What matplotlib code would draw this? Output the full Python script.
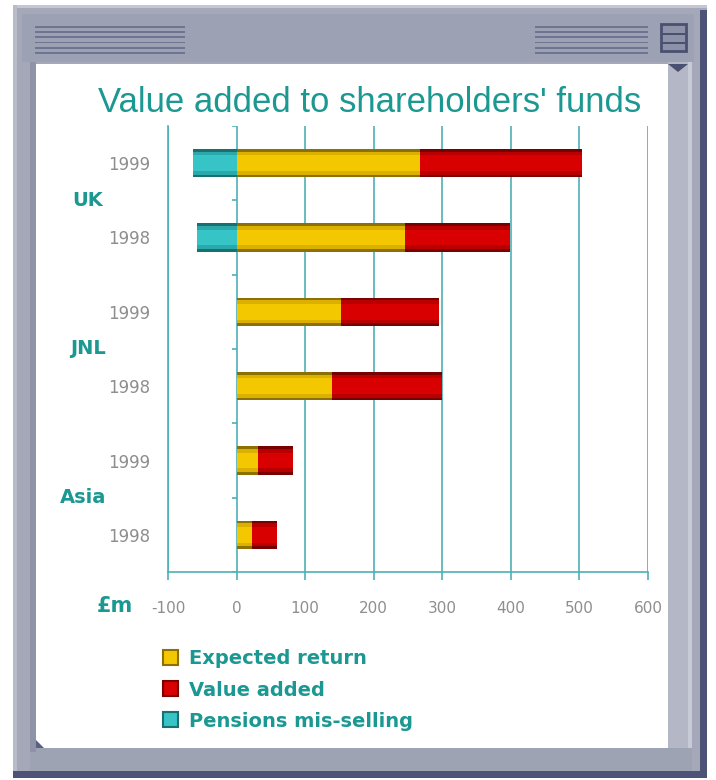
import matplotlib
matplotlib.use("Agg")
import matplotlib.pyplot as plt
from matplotlib.patches import Rectangle, Polygon, Patch
import numpy as np

# ---- data ----
groups = ["UK", "JNL", "Asia"]
years = ["1999", "1998"]
bar_labels = ["1999", "1998", "1999", "1998", "1999", "1998"]
expected_return = [268, 245, 153, 139, 31, 23]
value_added = [236, 154, 142, 160, 51, 36]
pensions_misselling = [-64, -58, 0, 0, 0, 0]
series_names = ["Expected return", "Value added", "Pensions mis-selling"]
xticks = [-100, 0, 100, 200, 300, 400, 500, 600]

TEAL = "#1c9892"
GRID = "#4fb0b6"
GRAY = "#8e8e8e"
col_light = {"er": "#f4c800", "va": "#d80000", "pm": "#36c4c6"}
col_mid = {"er": "#dcb000", "va": "#b80000", "pm": "#2aa8aa"}
col_dark = {"er": "#8c7000", "va": "#780000", "pm": "#187070"}

W, H = 716, 780
fig = plt.figure(figsize=(W / 100, H / 100), dpi=100)
fig.patch.set_facecolor("white")

# ---- window frame (background axes in pixel coords) ----
bg = fig.add_axes([0, 0, 1, 1])
bg.set_xlim(0, W)
bg.set_ylim(H, 0)
bg.axis("off")
frame = "#a4a8b8"
dark = "#4d5377"
bg.add_patch(Rectangle((13, 5), 694, 773, fc=frame, ec="none"))
bg.add_patch(Rectangle((700, 10), 7, 768, fc=dark, ec="none"))
bg.add_patch(Rectangle((13, 771), 694, 7, fc=dark, ec="none"))
bg.add_patch(Rectangle((13, 5), 694, 3, fc="#c4c7d2", ec="none"))
bg.add_patch(Rectangle((13, 5), 4, 766, fc="#b8bbc8", ec="none"))
# title bar
bg.add_patch(Rectangle((22, 14), 672, 48, fc="#9ca1b3", ec="none"))
for yy in np.arange(26, 54, 5.2):
    bg.add_patch(Rectangle((35, yy), 150, 1.8, fc="#6f7590", ec="none"))
    bg.add_patch(Rectangle((535, yy), 113, 1.8, fc="#6f7590", ec="none"))
bg.add_patch(Rectangle((661, 24), 25, 27, fc="#8d92a8", ec="#4a5070", lw=2))
for yy in (33, 42):
    bg.add_patch(Rectangle((662, yy), 23, 2, fc="#4a5070", ec="none"))
# right inner strip and bottom strip
bg.add_patch(Rectangle((668, 62), 24, 690, fc="#b4b8c6", ec="none"))
bg.add_patch(Rectangle((688, 62), 4, 690, fc="#c8cbd6", ec="none"))
bg.add_patch(Polygon([[668, 64], [688, 64], [678, 72]], closed=True, fc="#4a5070", ec="none"))
bg.add_patch(Rectangle((30, 748), 662, 23, fc="#9ea3b4", ec="none"))
bg.add_patch(Rectangle((30, 62), 6, 690, fc="#8e93a8", ec="none"))
# white panel
bg.add_patch(Rectangle((36, 64), 632, 684, fc="white", ec="none"))
bg.add_patch(Polygon([[36, 740], [44, 748], [36, 748]], closed=True, fc="#5a6080", ec="none"))

# ---- chart ----
left, right, top, bottom = 168, 648, 126, 572
ax = fig.add_axes([left / W, 1 - bottom / H, (right - left) / W, (bottom - top) / H])
ax.set_facecolor("none")
n = len(bar_labels)
ypos = np.arange(n) + 0.5
er = np.array(expected_return)
va = np.array(value_added)
pm = np.array(pensions_misselling)


def gbar(y, width, leftv, key):
    ax.barh(y, width, left=leftv, height=0.38, color=col_dark[key], lw=0, zorder=3)
    ax.barh(y, width, left=leftv, height=0.31, color=col_mid[key], lw=0, zorder=3)
    ax.barh(y, width, left=leftv, height=0.21, color=col_light[key], lw=0, zorder=3)


gbar(ypos, pm, 0, "pm")
gbar(ypos, er, 0, "er")
gbar(ypos, va, er, "va")

ax.set_xlim(-100, 600)
ax.set_ylim(n, 0)
ax.set_xticks(xticks)
ax.set_xticklabels([str(v) for v in xticks], color=GRAY, fontsize=11,
                   fontfamily="DejaVu Sans")
ax.tick_params(axis="x", length=6, color=GRID, width=1.2, pad=15)
ax.set_yticks(ypos)
ax.set_yticklabels(bar_labels, color=GRAY, fontsize=12, fontfamily="DejaVu Sans")
ax.tick_params(axis="y", length=0, pad=13)
for s in ("top", "right"):
    ax.spines[s].set_visible(False)
for s in ("left", "bottom"):
    ax.spines[s].set_color(GRID)
    ax.spines[s].set_linewidth(1.2)
ax.grid(axis="x", color=GRID, lw=1.2, zorder=1)
# small ticks on the zero line between categories
ax.hlines(np.arange(n + 1), -7, 0, color=GRID, lw=1.2, zorder=2)

# group labels (figure pixel positions)
group_x = [88, 88, 83]
for i, g in enumerate(groups):
    ax.text(group_x[i] / W, 1 - (126 + (2 * i + 1) * (446 / n)) / H, g,
            transform=fig.transFigure, color=TEAL, fontsize=14,
            fontweight="bold", ha="center", va="center",
            fontfamily="DejaVu Sans", clip_on=False)

fig.text(115 / W, 1 - 606 / H, "£m", color=TEAL, fontsize=15, fontweight="bold",
         ha="center", va="center", fontfamily="DejaVu Sans")

fig.text(370 / W, 1 - 102 / H, "Value added to shareholders' funds", color=TEAL,
         fontsize=25, ha="center", va="center", fontfamily="Liberation Sans")

handles = [Patch(fc=col_light["er"], ec=col_dark["er"], lw=1.5),
           Patch(fc=col_light["va"], ec=col_dark["va"], lw=1.5),
           Patch(fc=col_light["pm"], ec=col_dark["pm"], lw=1.5)]
leg = fig.legend(handles, series_names, loc="upper left",
                 bbox_to_anchor=(145 / W, 1 - 632 / H), frameon=False,
                 handlelength=0.8, handleheight=0.8, handletextpad=0.55,
                 labelspacing=0.62, prop={"family": "DejaVu Sans", "weight": "bold", "size": 14},
                 labelcolor=TEAL)

fig.savefig("out.png", dpi=100)
